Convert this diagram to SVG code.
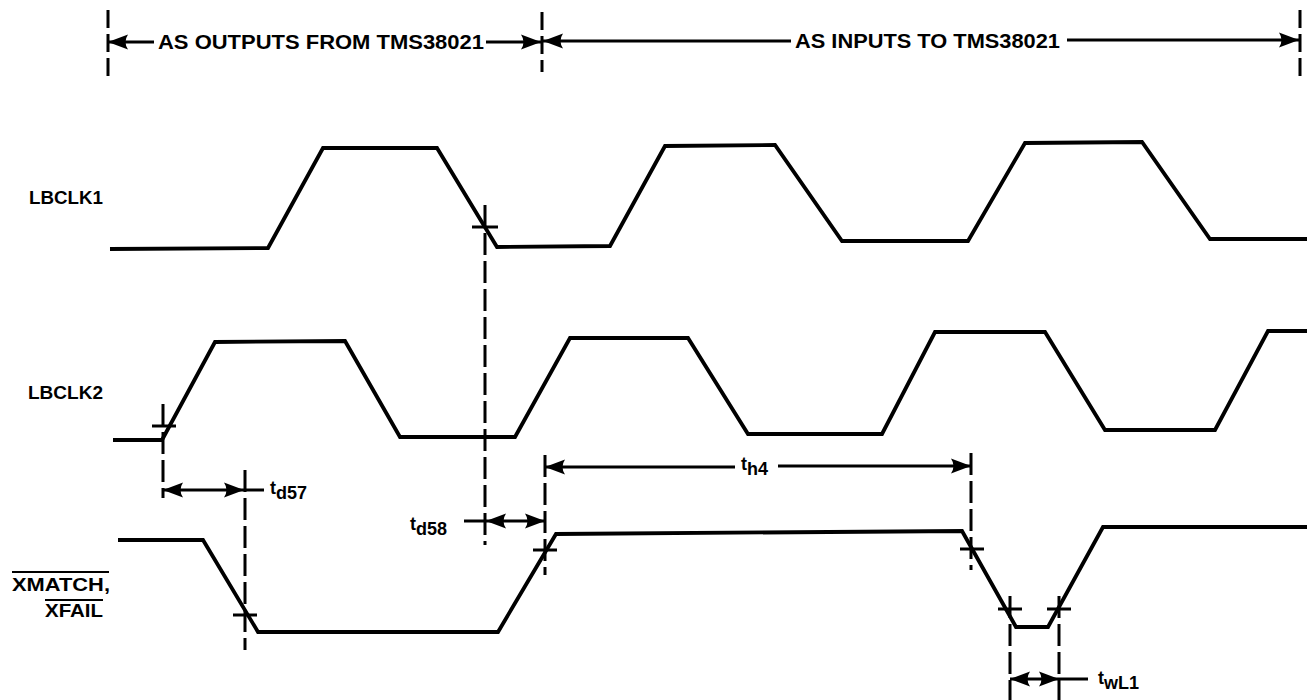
<svg xmlns="http://www.w3.org/2000/svg" width="1307" height="700" viewBox="0 0 1307 700">
<style>
  .wave{fill:none;stroke:#000;stroke-width:3.8;stroke-linejoin:miter}
  .dash{fill:none;stroke:#000;stroke-width:3;stroke-dasharray:22 6}
  .dim{fill:none;stroke:#000;stroke-width:3}
  .tick{fill:none;stroke:#000;stroke-width:3}
  .lbl{font-family:"Liberation Sans",Arial,sans-serif;font-weight:bold;font-size:18px;fill:#000}
  .hdr{font-family:"Liberation Sans",Arial,sans-serif;font-weight:bold;font-size:20px;fill:#000}
  .sub{font-size:18px}
</style>
<defs>
  <marker id="ah" viewBox="0 0 20 16" refX="20" refY="8" markerWidth="20" markerHeight="16" markerUnits="userSpaceOnUse" orient="auto-start-reverse">
    <path d="M0,0.5 L20,8 L0,15.5 Q5,8 0,0.5 Z" fill="#000"/>
  </marker>
</defs>
<rect width="1307" height="700" fill="#fff"/>

<g id="header">
  <line class="dash" x1="108" y1="10" x2="108" y2="78" style="stroke-dasharray:18 6"/>
  <line class="dash" x1="542" y1="12" x2="542" y2="72" style="stroke-dasharray:18 6"/>
  <line class="dash" x1="1300" y1="10" x2="1300" y2="80" style="stroke-dasharray:18 6"/>
  <line class="dim" x1="108" y1="42" x2="154" y2="42" marker-start="url(#ah)"/>
  <text class="hdr" x="158" y="49" textLength="326" lengthAdjust="spacingAndGlyphs">AS OUTPUTS FROM TMS38021</text>
  <line class="dim" x1="486" y1="42" x2="541" y2="42" marker-end="url(#ah)"/>
  <line class="dim" x1="543" y1="41" x2="791" y2="41" marker-start="url(#ah)"/>
  <text class="hdr" x="795" y="48" textLength="265" lengthAdjust="spacingAndGlyphs">AS INPUTS TO TMS38021</text>
  <line class="dim" x1="1067" y1="40" x2="1299" y2="40" marker-end="url(#ah)"/>
</g>

<g id="label-lbclk1"><text class="lbl" x="29" y="204" textLength="74" lengthAdjust="spacingAndGlyphs">LBCLK1</text></g>
<g id="label-lbclk2"><text class="lbl" x="28" y="399" textLength="75" lengthAdjust="spacingAndGlyphs">LBCLK2</text></g>
<g id="label-xmatch">
  <text class="lbl" x="12" y="591" textLength="98" lengthAdjust="spacingAndGlyphs">XMATCH,</text>
  <line x1="12" y1="572" x2="109" y2="572" stroke="#000" stroke-width="2"/>
  <text class="lbl" x="45" y="617" textLength="58" lengthAdjust="spacingAndGlyphs">XFAIL</text>
  <line x1="45" y1="600" x2="103" y2="600" stroke="#000" stroke-width="2"/>
</g>

<g id="wave-lbclk1">
  <path class="wave" d="M110,249 L268,248 L323,148 L437,148 L497,247 L610,246 L665,146 L775,145 L842,241 L968,241 L1025,143 L1142,142 L1210,239 L1307,239"/>
</g>
<g id="wave-lbclk2">
  <path class="wave" d="M113,440 L162,440 L215,342 L345,341 L400,437 L515,437 L570,338 L688,338 L748,434 L882,434 L935,332 L1045,332 L1105,430 L1215,430 L1268,331 L1307,331"/>
</g>
<g id="wave-xmatch">
  <path class="wave" d="M118,540 L203,540 L258,632 L498,632 L556,534 L962,531 L1016,627 L1048,627 L1103,527 L1307,527"/>
</g>

<g id="connectors">
  <line class="dash" x1="163" y1="404" x2="163" y2="498"/>
  <line class="dash" x1="245" y1="470" x2="245" y2="650"/>
  <line class="dash" x1="485" y1="205" x2="485" y2="545"/>
  <line class="dash" x1="545" y1="455" x2="545" y2="575"/>
  <line class="dash" x1="971" y1="453" x2="971" y2="570"/>
  <line class="dash" x1="1010" y1="596" x2="1010" y2="700"/>
  <line class="dash" x1="1059" y1="596" x2="1059" y2="700"/>
  <line class="tick" x1="152" y1="426" x2="176" y2="426"/>
  <line class="tick" x1="472" y1="227" x2="498" y2="227"/>
  <line class="tick" x1="233" y1="615" x2="257" y2="615"/>
  <line class="tick" x1="533" y1="550" x2="557" y2="550"/>
  <line class="tick" x1="960" y1="549" x2="984" y2="549"/>
  <line class="tick" x1="998" y1="609" x2="1022" y2="609"/>
  <line class="tick" x1="1047" y1="609" x2="1071" y2="609"/>
  <line class="dim" x1="163" y1="490" x2="244" y2="490" marker-start="url(#ah)" marker-end="url(#ah)"/>
  <line class="dim" x1="244" y1="490" x2="264" y2="490"/>
  <line class="dim" x1="464" y1="521" x2="486" y2="521"/>
  <line class="dim" x1="486" y1="521" x2="545" y2="521" marker-start="url(#ah)" marker-end="url(#ah)"/>
  <line class="dim" x1="545" y1="467" x2="735" y2="467" marker-start="url(#ah)"/>
  <line class="dim" x1="778" y1="466" x2="971" y2="466" marker-end="url(#ah)"/>
  <line class="dim" x1="1010" y1="679" x2="1059" y2="679" marker-start="url(#ah)" marker-end="url(#ah)"/>
  <line class="dim" x1="1059" y1="679" x2="1088" y2="679"/>
</g>

<g id="timing-labels">
  <text class="lbl" x="270" y="494">t<tspan class="sub" dy="5">d57</tspan></text>
  <text class="lbl" x="410" y="530">t<tspan class="sub" dy="5">d58</tspan></text>
  <text class="lbl" x="741" y="470">t<tspan class="sub" dy="5">h4</tspan></text>
  <text class="lbl" x="1098" y="684">t<tspan class="sub" dy="5">wL1</tspan></text>
</g>
</svg>
